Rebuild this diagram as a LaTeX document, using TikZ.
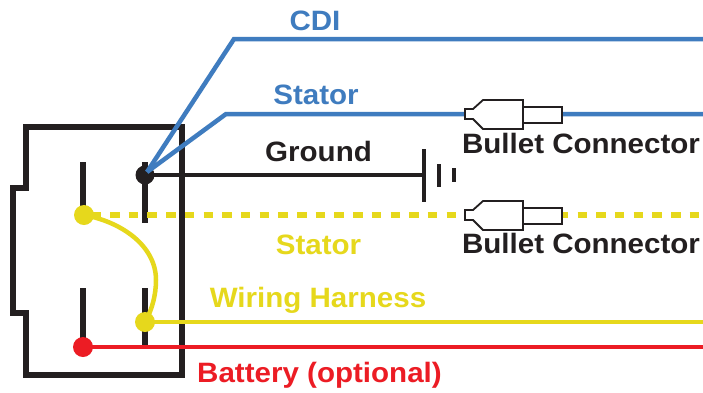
\documentclass[tikz,border=0pt]{standalone}
\usepackage{fontspec}
\setmainfont{Liberation Sans}
\definecolor{wblue}{HTML}{3F7CBF}
\definecolor{wyellow}{HTML}{E6D81C}
\definecolor{wred}{HTML}{EC1C24}
\definecolor{wblack}{HTML}{231F20}
\tikzset{
  lab/.style={anchor=base,inner sep=0pt,font=\fontsize{28}{30}\selectfont\bfseries,xscale=1.055,transform shape},
  dot/.style={circle,fill=#1,draw=none,minimum size=20pt,inner sep=0pt},
  housing/.style={draw=wblack,line width=6pt,miter limit=10},
  blade/.style={draw=wblack,line width=6.5pt},
  wire/.style={line width=4.5pt,draw=#1},
  bullet/.style={draw=wblack,line width=1.8pt,fill=white,line join=miter},
}
\begin{document}
\begin{tikzpicture}[x=1pt,y=-1pt]
\useasboundingbox (0,0) rectangle (703,392);
\fill[white] (0,0) rectangle (703,392);
% free ends
\coordinate (cdiEnd) at (703,39);
\coordinate (cdiBend) at (234,39);
\coordinate (statEnd) at (703,114);
\coordinate (statBend) at (226,114);
\coordinate (dashStart) at (91.3,215);
\coordinate (dashEnd) at (703,215);
\coordinate (harnEnd) at (703,322);
\coordinate (batEnd) at (703,347);
\coordinate (gnd) at (424,175);
\coordinate (curveMid) at (156,280);
\coordinate (bl) at (147,172);
% housing
\draw[housing] (26,127) -- (182,127) -- (182,375) -- (26,375) -- (26,313) -- (13,313) -- (13,188) -- (26,188) -- cycle;
% blades
\draw[blade] (83,162) -- (83,215);
\draw[blade] (145,162) -- (145,223);
\draw[blade] (83,288) -- (83,347);
\draw[blade] (145,288) -- (145,347);
% nodes
\node[dot=wblack,minimum size=19pt] (pk) at (145,175) {};
\node[dot=wyellow] (py) at (84,215) {};
\node[dot=wyellow] (pw) at (145,322) {};
\node[dot=wred] (pr) at (83,347) {};
% wires
\draw[wire=wred] (pr.center) -- (batEnd);
\draw[wire=wyellow] (pw.center) -- (harnEnd);
\draw[wire=wyellow] (py.center) .. controls (122,222) and (156,246) .. (curveMid) .. controls (156,295) and (152,310) .. (pw.center);
\draw[line width=6pt,draw=wyellow,dash pattern=on 9.5pt off 9.2pt] (dashStart) -- (dashEnd);
\draw[wire=wblack] (pk.center) -- (gnd);
\draw[wire=wblue,line join=miter] (bl) -- (cdiBend) -- (cdiEnd);
\draw[wire=wblue,line join=miter] (bl) -- (statBend) -- (statEnd);
% ground symbol
\draw[wblack,line width=4pt] (424,149) -- (424,202);
\draw[wblack,line width=4pt] (439,164) -- (439,187);
\draw[wblack,line width=3.5pt] (454,168) -- (454,182);
% bullet connectors
\foreach \n/\y in {a/114,b/215}{
  \begin{scope}[yshift=-\y pt]
  \draw[bullet] (523,-7) -- (562,-7) -- (562,9) -- (523,9) -- cycle;
  \draw[bullet] (465,-5) -- (473,-5) -- (483,-14) -- (523,-14) -- (523,15) -- (483,15) -- (473,5) -- (465,5) -- cycle;
  \end{scope}
}
% labels
\node[lab,text=wblue] (t1) at (315,30) {CDI};
\node[lab,text=wblue] (t2) at (316,104) {Stator};
\node[lab,text=wblack] (t3) at (318.5,161) {Ground};
\node[lab,text=wblack] (t4) at (581,153) {Bullet Connector};
\node[lab,text=wyellow] (t5) at (318.5,254) {Stator};
\node[lab,text=wblack] (t6) at (581,253) {Bullet Connector};
\node[lab,text=wyellow] (t7) at (318,307) {Wiring Harness};
\node[lab,text=wred] (t8) at (319.5,382) {Battery (optional)};
\end{tikzpicture}
\end{document}
